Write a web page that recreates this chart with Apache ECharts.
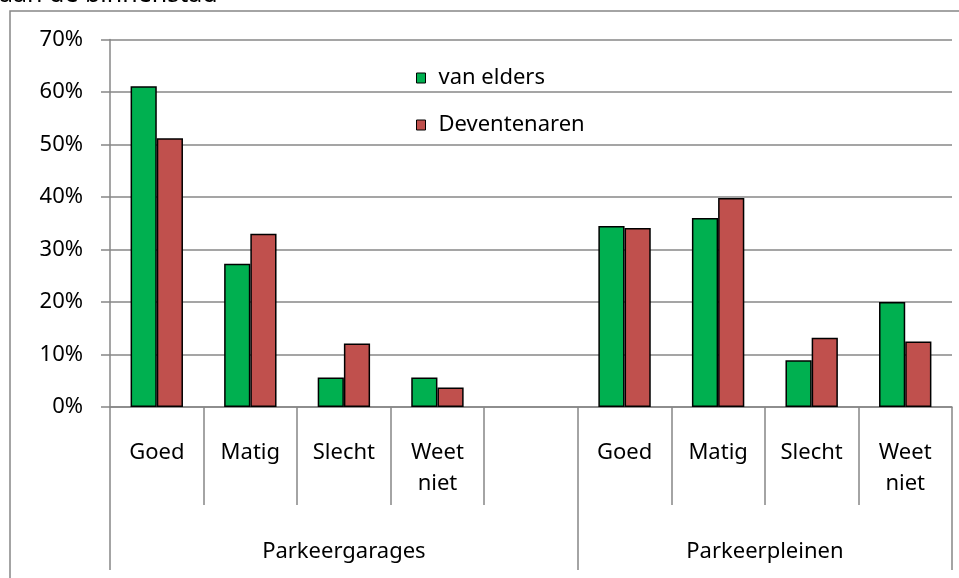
<!DOCTYPE html>
<html>
<head>
<meta charset="utf-8">
<script src="https://cdn.jsdelivr.net/npm/echarts@6/dist/echarts.min.js"></script>
<style>
  html, body { margin: 0; padding: 0; background: #fff; }
  #chart { width: 959px; height: 578px; }
</style>
</head>
<body>
<div id="chart"></div>
<script>
// categorieën (lege plek tussen de twee groepen)
var categories = ['Goed', 'Matig', 'Slecht', 'Weet\nniet', '', 'Goed', 'Matig', 'Slecht', 'Weet\nniet'];
var groups = ['Parkeergarages', 'Parkeerpleinen'];
var groupSpans = [5, 4];   // aantal categorieën per groep

var vanElders = [61.1, 27.3, 5.6, 5.6, null, 34.5, 36.0, 8.9, 20.0];
var deventenaren = [51.2, 33.0, 12.1, 3.7, null, 34.1, 39.8, 13.2, 12.5];

var yTicks = [0, 10, 20, 30, 40, 50, 60, 70];

var font = 'Noto Sans';
var grey = '#878787';

// groepsas op halve categorieën: labels in het midden, streepjes op de grenzen
var halfAxis = [];
var groupLabelIdx = [];
var groupTickIdx = [0];
var pos = 0;
for (var i = 0; i < groups.length; i++) {
    groupLabelIdx.push(pos + groupSpans[i]);
    pos += groupSpans[i] * 2;
    groupTickIdx.push(pos);
}
for (var j = 0; j <= pos; j++) {
    var k = groupLabelIdx.indexOf(j);
    halfAxis.push(k >= 0 ? groups[k] : '');
}

var chart = echarts.init(document.getElementById('chart'));

var option = {
    animation: false,
    textStyle: { fontFamily: font },
    grid: {
        left: 110,
        right: 7,
        top: 39.5,
        bottom: 171
    },
    graphic: [
        {   // afgesneden titel
            type: 'text',
            x: -1,
            y: 7,
            style: {
                text: 'aan de binnenstad',
                fontSize: 25,
                fontFamily: font,
                fill: '#000',
                verticalAlign: 'bottom'
            }
        },
        {   // kader
            type: 'rect',
            shape: { x: 10, y: 11, width: 960, height: 600 },
            style: { fill: 'none', stroke: grey, lineWidth: 1.5 },
            z: -1
        }
    ],
    legend: {
        orient: 'vertical',
        left: 411,
        top: 62,
        itemGap: 25,
        itemWidth: 9,
        itemHeight: 10,
        icon: 'rect',
        itemStyle: { borderColor: '#000', borderWidth: 1 },
        textStyle: { fontSize: 22, color: '#000', fontFamily: font, padding: [0, 0, 0, 8] },
        data: ['van elders', 'Deventenaren']
    },
    xAxis: [
        {
            type: 'category',
            data: categories,
            position: 'bottom',
            axisLine: { lineStyle: { color: grey, width: 1.5 } },
            axisTick: { show: true, interval: 0, length: 98, lineStyle: { color: grey, width: 1.5 } },
            axisLabel: {
                interval: 0,
                margin: 30,
                fontSize: 22,
                lineHeight: 31,
                color: '#000',
                fontFamily: font
            }
        },
        {
            type: 'category',
            data: halfAxis,
            position: 'bottom',
            boundaryGap: false,
            axisLine: { show: false },
            axisTick: {
                show: true,
                length: 163,
                interval: function (idx) { return groupTickIdx.indexOf(idx) >= 0; },
                lineStyle: { color: grey, width: 1.5 }
            },
            axisLabel: {
                interval: function (idx) { return groupLabelIdx.indexOf(idx) >= 0; },
                margin: 134,
                fontSize: 22,
                color: '#000',
                fontFamily: font
            }
        }
    ],
    yAxis: {
        type: 'value',
        min: yTicks[0],
        max: yTicks[yTicks.length - 1],
        interval: 10,
        axisLine: { show: true, lineStyle: { color: grey, width: 1.5 } },
        axisTick: { show: true, length: 9, lineStyle: { color: grey, width: 1.5 } },
        splitLine: { lineStyle: { color: grey, width: 1.5 } },
        axisLabel: {
            formatter: '{value}%',
            margin: 27,
            fontSize: 22,
            color: '#000',
            fontFamily: font
        }
    },
    series: [
        {
            name: 'van elders',
            type: 'bar',
            data: vanElders,
            barGap: '0%',
            barCategoryGap: '44%',
            itemStyle: { color: '#00B050', borderColor: '#000', borderWidth: 1.5 }
        },
        {
            name: 'Deventenaren',
            type: 'bar',
            data: deventenaren,
            barGap: '0%',
            barCategoryGap: '44%',
            itemStyle: { color: '#C0504D', borderColor: '#000', borderWidth: 1.5 }
        }
    ]
};

chart.setOption(option);
</script>
</body>
</html>
